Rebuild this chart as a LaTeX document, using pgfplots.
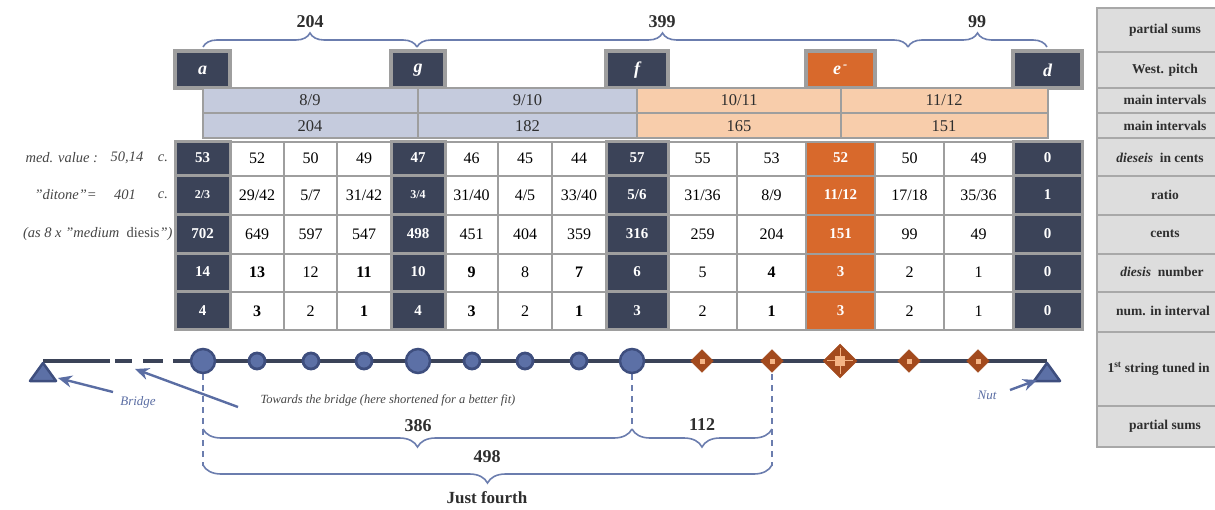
\documentclass[border=0pt]{standalone}
\usepackage{fontspec}
\setmainfont{Liberation Serif}
\usepackage{pgfplots}
\pgfplotsset{compat=1.18}
\usetikzlibrary{arrows.meta,decorations.pathreplacing}
\definecolor{cNavy}{HTML}{3B4358}
\definecolor{cOra}{HTML}{D8692C}
\definecolor{cLblue}{HTML}{C5CBDD}
\definecolor{cPeach}{HTML}{F8CDAB}
\definecolor{cGray}{HTML}{9E9E9E}
\definecolor{cRt}{HTML}{DDDDDD}
\definecolor{cRtB}{HTML}{A8A8A8}
\definecolor{cCirc}{HTML}{5C70A6}
\definecolor{cCircD}{HTML}{3E4E7E}
\definecolor{cBrown}{HTML}{A34A1D}
\definecolor{cLight}{HTML}{F4B485}
\definecolor{cBrace}{HTML}{6B7DAE}
\definecolor{cArrow}{HTML}{5A6DA3}
\definecolor{cLab}{HTML}{454545}
\definecolor{cTxt}{HTML}{2E2E2E}
\newcommand\fs[1]{\fontsize{#1}{#1}\selectfont}
\newcommand\qq{\symbol{34}}
\newcommand\rect[5]{\addplot[#5] coordinates {(#1,#2) (#3,#2) (#3,#4) (#1,#4)} -- cycle;}
\newcommand\gcol[3]{\rect{#1}{142}{#2}{176}{#3}\rect{#1}{176}{#2}{215}{#3}\rect{#1}{215}{#2}{254}{#3}\rect{#1}{254}{#2}{292}{#3}\rect{#1}{292}{#2}{330}{#3}}
\pgfplotsset{
 wt/.style={fill=white, draw=cGray, line width=1.6pt},
 dk/.style={fill=cNavy, draw=cGray, line width=3pt},
 og/.style={fill=cOra, draw=cGray, line width=1.6pt},
 dkb/.style={fill=cNavy, draw=cGray, line width=4pt},
 ogb/.style={fill=cOra, draw=cGray, line width=4pt},
 ib/.style={fill=cLblue, draw=cGray, line width=2pt},
 ip/.style={fill=cPeach, draw=cGray, line width=2pt},
 rt/.style={fill=cRt, draw=cRtB, line width=2pt},
 txt/.style 2 args={draw=none, mark=none, nodes near coords, point meta=explicit symbolic,
   every node near coord/.append style={anchor=center, inner sep=0pt, font=#1, text=#2}},
 br/.style={cBrace, line width=1.6pt, decorate, decoration={brace, amplitude=#1}},
 brm/.style={cBrace, line width=1.6pt, decorate, decoration={brace, mirror, amplitude=#1}},
 str/.style={cNavy, line width=4.5pt},
 arr/.style={cArrow, line width=2.4pt, -{Stealth[length=14pt,width=12pt]}},
 dsh/.style={cBrace, line width=1.5pt, dash pattern=on 6pt off 5pt},
}
\begin{document}
\begin{tikzpicture}
\begin{axis}[name=ax, width=1215pt, height=510pt, scale only axis,
  xmin=0, xmax=1215, ymin=0, ymax=510, y dir=reverse, hide axis, clip=true]

% ---------- right label column ----------
\rect{1097}{8}{1240}{52}{rt}
\rect{1097}{52}{1240}{88}{rt}
\rect{1097}{88}{1240}{113}{rt}
\rect{1097}{113}{1240}{138}{rt}
\rect{1097}{138}{1240}{176}{rt}
\rect{1097}{176}{1240}{215}{rt}
\rect{1097}{215}{1240}{254}{rt}
\rect{1097}{254}{1240}{292}{rt}
\rect{1097}{292}{1240}{332}{rt}
\rect{1097}{332}{1240}{406}{rt}
\rect{1097}{406}{1240}{447}{rt}

% ---------- pitch boxes ----------
\rect{175}{51}{230}{88}{dkb}
\rect{391}{51}{445}{88}{dkb}
\rect{606}{51}{668}{88}{dkb}
\rect{806}{51}{875}{88}{ogb}
\rect{1013}{51}{1082}{88}{dkb}

% ---------- main intervals ----------
\rect{202.5}{88}{418}{113}{ib}
\rect{418}{88}{637}{113}{ib}
\rect{637}{88}{840.5}{113}{ip}
\rect{840.5}{88}{1047.5}{113}{ip}
\rect{202.5}{113}{418}{138}{ib}
\rect{418}{113}{637}{138}{ib}
\rect{637}{113}{840.5}{138}{ip}
\rect{840.5}{113}{1047.5}{138}{ip}

% ---------- grid ----------
\gcol{230}{284}{wt}\gcol{284}{337}{wt}\gcol{337}{391}{wt}
\gcol{445}{498}{wt}\gcol{498}{552}{wt}\gcol{552}{606}{wt}
\gcol{668}{737}{wt}\gcol{737}{806}{wt}
\gcol{875}{944}{wt}\gcol{944}{1013}{wt}
\gcol{175}{230}{dk}\gcol{391}{445}{dk}\gcol{606}{668}{dk}\gcol{1013}{1082}{dk}
\gcol{806}{875}{og}

% ---------- grid numbers ----------
% row 1: dieseis in cents
\addplot[txt={\fs{15}\bfseries}{white}] coordinates {(202.5,158)[53] (418,158)[47] (637,158)[57] (840.5,158)[52] (1047.5,158)[0]};
\addplot[txt={\fs{16}}{black}] coordinates {(257,158)[52] (310.5,158)[50] (364,158)[49] (471.5,158)[46] (525,158)[45] (579,158)[44] (702.5,158)[55] (771.5,158)[53] (909.5,158)[50] (978.5,158)[49]};
% row 2: ratio
\addplot[txt={\fs{12}\bfseries}{white}] coordinates {(202.5,195)[2/3] (418,195)[3/4]};
\addplot[txt={\fs{15}\bfseries}{white}] coordinates {(637,195)[5/6] (840.5,195)[11/12] (1047.5,195)[1]};
\addplot[txt={\fs{16}}{black}] coordinates {(257,195)[29/42] (310.5,195)[5/7] (364,195)[31/42] (471.5,195)[31/40] (525,195)[4/5] (579,195)[33/40] (702.5,195)[31/36] (771.5,195)[8/9] (909.5,195)[17/18] (978.5,195)[35/36]};
% row 3: cents
\addplot[txt={\fs{15}\bfseries}{white}] coordinates {(202.5,234)[702] (418,234)[498] (637,234)[316] (840.5,234)[151] (1047.5,234)[0]};
\addplot[txt={\fs{16}}{black}] coordinates {(257,234)[649] (310.5,234)[597] (364,234)[547] (471.5,234)[451] (525,234)[404] (579,234)[359] (702.5,234)[259] (771.5,234)[204] (909.5,234)[99] (978.5,234)[49]};
% row 4: diesis number
\addplot[txt={\fs{15}\bfseries}{white}] coordinates {(202.5,272)[14] (418,272)[10] (637,272)[6] (840.5,272)[3] (1047.5,272)[0]};
\addplot[txt={\fs{16}\bfseries}{black}] coordinates {(257,272)[13] (364,272)[11] (471.5,272)[9] (579,272)[7] (771.5,272)[4]};
\addplot[txt={\fs{16}}{black}] coordinates {(310.5,272)[12] (525,272)[8] (702.5,272)[5] (909.5,272)[2] (978.5,272)[1]};
% row 5: num. in interval
\addplot[txt={\fs{15}\bfseries}{white}] coordinates {(202.5,311)[4] (418,311)[4] (637,311)[3] (840.5,311)[3] (1047.5,311)[0]};
\addplot[txt={\fs{16}\bfseries}{black}] coordinates {(257,311)[3] (364,311)[1] (471.5,311)[3] (579,311)[1] (771.5,311)[1]};
\addplot[txt={\fs{16}}{black}] coordinates {(310.5,311)[2] (525,311)[2] (702.5,311)[2] (909.5,311)[2] (978.5,311)[1]};

% ---------- main intervals text ----------
\addplot[txt={\fs{16.5}}{cTxt}] coordinates {(310,100)[8/9] (527.5,100)[9/10] (739,100)[10/11] (944,100)[11/12]};
\addplot[txt={\fs{16.5}}{cTxt}] coordinates {(310,126)[204] (527.5,126)[182] (739,126)[165] (944,126)[151]};

% ---------- partial sums (top) ----------
\addplot[br=14pt] coordinates {(203,47) (417,47)};
\addplot[br=14pt] coordinates {(417,47) (908,47)};
\addplot[br=14pt] coordinates {(908,47) (1047,47)};
\addplot[txt={\fs{18}\bfseries}{cTxt}] coordinates {(310,22)[204] (662,22)[399] (977,22)[99]};

% ---------- pitch letters ----------
\node[font=\fs{18}\bfseries\itshape, text=white] at (axis cs:202.5,70) {a};
\node[font=\fs{18}\bfseries\itshape, text=white] at (axis cs:418,70) {g};
\node[font=\fs{18}\bfseries\itshape, text=white] at (axis cs:637,70) {f};
\node[font=\fs{18}\bfseries\itshape, text=white] at (axis cs:840.5,70) {e\textsuperscript{\,-}};
\node[font=\fs{18}\bfseries\itshape, text=white] at (axis cs:1047.5,70) {d};

% ---------- left notes ----------
\node[anchor=west, font=\fs{14.5}\itshape, text=cLab] at (axis cs:22,158) {med. value :};
\node[font=\fs{14.5}\itshape, text=cLab] at (axis cs:127,158) {50,14};
\node[font=\fs{14.5}\itshape, text=cLab] at (axis cs:163,158) {c.};
\node[anchor=west, font=\fs{14.5}\itshape, text=cLab] at (axis cs:31,195) {\qq ditone\qq =};
\node[font=\fs{14.5}\itshape, text=cLab] at (axis cs:125,195) {401};
\node[font=\fs{14.5}\itshape, text=cLab] at (axis cs:163,195) {c.};
\node[anchor=east, font=\fs{14.5}, text=cLab] at (axis cs:176,234) {\textit{(as 8 x \qq medium}\ \ diesis\textit{\qq)}};

% ---------- right labels ----------
\node[font=\fs{13.5}\bfseries, text=cTxt] at (axis cs:1165,30) {partial sums};
\node[font=\fs{13.5}\bfseries, text=cTxt] at (axis cs:1165,70) {West. pitch};
\node[font=\fs{13.5}\bfseries, text=cTxt] at (axis cs:1165,100) {main intervals};
\node[font=\fs{13.5}\bfseries, text=cTxt] at (axis cs:1165,126) {main intervals};
\node[font=\fs{13.5}\bfseries, text=cTxt] at (axis cs:1160,158) {\textit{dieseis} \ in cents};
\node[font=\fs{13.5}\bfseries, text=cTxt] at (axis cs:1165,195) {ratio};
\node[font=\fs{13.5}\bfseries, text=cTxt] at (axis cs:1165,234) {cents};
\node[font=\fs{13.5}\bfseries, text=cTxt] at (axis cs:1162,272) {\textit{diesis} \ number};
\node[font=\fs{13.5}\bfseries, text=cTxt] at (axis cs:1163,311) {num. in interval};
\node[anchor=west, font=\fs{13.5}\bfseries, text=cTxt] at (axis cs:1104,369) {1\textsuperscript{st} string tuned in};
\node[font=\fs{13.5}\bfseries, text=cTxt] at (axis cs:1165,426) {partial sums};

% ---------- string ----------
\addplot[dsh] coordinates {(203,374) (203,466)};
\addplot[dsh] coordinates {(632,374) (632,430)};
\addplot[dsh] coordinates {(772,374) (772,466)};
\addplot[str] coordinates {(43,361) (110,361)};
\addplot[str] coordinates {(115,361) (132,361)};
\addplot[str] coordinates {(143,361) (163,361)};
\addplot[str] coordinates {(173,361) (1047,361)};
\addplot[fill=cCirc, draw=cCircD, line width=2.5pt, line join=round] coordinates {(43,363) (56,381) (30,381)} -- cycle;
\addplot[fill=cCirc, draw=cCircD, line width=2.5pt, line join=round] coordinates {(1047,363) (1060,381) (1034,381)} -- cycle;
\addplot[only marks, mark=*, mark size=12pt, mark options={fill=cCirc, draw=cCircD, line width=2.5pt}] coordinates {(203,361) (418,361) (632,361)};
\addplot[only marks, mark=*, mark size=8pt, mark options={fill=cCirc, draw=cCircD, line width=2.8pt}] coordinates {(257,361) (311,361) (364,361) (472,361) (525,361) (579,361)};
\addplot[only marks, mark=square*, mark size=8pt, mark options={rotate=45, fill=cBrown, draw=cBrown}] coordinates {(702,361) (772,361) (909,361) (978,361)};
\addplot[only marks, mark=square*, mark size=12pt, mark options={rotate=45, fill=cBrown, draw=cBrown}] coordinates {(840,361)};
\addplot[only marks, mark=square*, mark size=2pt, mark options={fill=cLight, draw=cLight}] coordinates {(702,361) (772,361) (909,361) (978,361)};
\addplot[only marks, mark=+, mark size=13pt, mark options={draw=cLight, line width=1pt}] coordinates {(840,361)};
\addplot[only marks, mark=square*, mark size=4.5pt, mark options={fill=cLight, draw=cLight}] coordinates {(840,361)};

% ---------- arrows and notes ----------
\addplot[arr] coordinates {(113,392) (58,378)};
\addplot[arr] coordinates {(238,407) (135,369)};
\addplot[arr] coordinates {(1010,390) (1037,380)};
\node[font=\fs{13}\itshape, text=cArrow] at (axis cs:138,402) {Bridge};
\node[anchor=west, font=\fs{12.5}\itshape, text=cLab] at (axis cs:257,400) {Towards the bridge (here shortened for a better fit)};
\node[font=\fs{13}\itshape, text=cArrow] at (axis cs:987,395) {Nut};

% ---------- partial sums (bottom) ----------
\addplot[brm=18pt] coordinates {(203,429) (632,429)};
\addplot[brm=18pt] coordinates {(632,429) (772,429)};
\addplot[brm=18pt] coordinates {(203,465) (772,465)};
\addplot[txt={\fs{18}\bfseries}{cTxt}] coordinates {(418,426)[386] (702,425)[112] (487,457)[498]};
\node[font=\fs{17}\bfseries, text=cTxt] at (axis cs:487,498) {Just fourth};
\end{axis}
\pgfresetboundingbox
\path (ax.south west) rectangle (ax.north east);
\end{tikzpicture}
\end{document}
